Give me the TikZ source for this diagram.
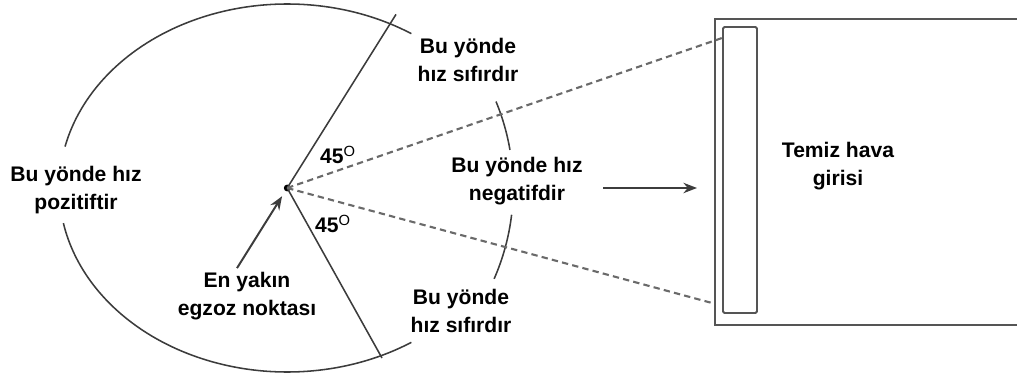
\documentclass[tikz,border=0pt]{standalone}
\usepackage{fontspec}
\setmainfont{Liberation Sans}
\usepackage{xcolor}
\usetikzlibrary{arrows.meta}
\definecolor{line-gray}{HTML}{3C3C3C}
\definecolor{dash-gray}{HTML}{6A6A6A}
\definecolor{box-gray}{HTML}{555555}

\begin{document}
\begin{tikzpicture}[
        every node/.style={font=\fontsize{15}{19.5}\selectfont\bfseries},
        lbl/.style={align=center, inner sep=0pt},
        ln/.style={line-gray, line width=1.1pt},
        dashln/.style={dash-gray, line width=1.5pt, dash pattern=on 4.5pt off 3pt},
        boxln/.style={box-gray, line width=1.6pt},
        arr/.style={-{Stealth[length=0.34cm, width=0.26cm]}, line-gray, line width=1.4pt}]
      \useasboundingbox (0,0) rectangle (25.425,9.35);
      % nearest exhaust point
      \node[circle, fill=black, inner sep=0pt, minimum size=0.17cm] (dot) at (7.18,4.65) {};
      \coordinate (upEnd) at (9.90,8.99);
      \coordinate (lowEnd) at (9.55,0.40);
      % 45 degree boundary lines
      \draw[ln] (dot.center) -- (upEnd);
      \draw[ln] (dot.center) -- (lowEnd);
      % outer curve (broken at the left label)
      \draw[ln] (dot.center) ++(57:5.7 and 4.6)
            arc[start angle=57, end angle=167, x radius=5.7, y radius=4.6];
      \draw[ln] (dot.center) ++(191:5.7 and 4.6)
            arc[start angle=191, end angle=303, x radius=5.7, y radius=4.6];
      % small arc pieces
      \draw[ln] (dot.center) ++(22.5:5.65) arc[start angle=22.5, end angle=9.7, radius=5.65];
      \draw[ln] (dot.center) ++(-6.8:5.65) arc[start angle=-6.8, end angle=-23.7, radius=5.65];
      % fresh air intake
      \draw[boxln] (25.425,8.875) -- (17.875,8.875) -- (17.875,1.225) -- (25.425,1.225);
      \node[draw=box-gray, line width=1.4pt, rounded corners=1pt, inner sep=0pt,
            minimum width=0.85cm, minimum height=7.15cm] (grille) at (18.5,5.1) {};
      \coordinate (dashUp) at (grille.west |- 0,8.4);
      \coordinate (dashLow) at (17.8,1.775);
      \draw[dashln] (dot.center) -- (dashUp);
      \draw[dashln] (dot.center) -- (dashLow);
      % labels
      \node[lbl] (posLbl) at (1.9,4.6) {Bu yönde hız\\pozitiftir};
      \node[lbl] (angUp) at (8.45,5.475) {45\textsuperscript{\mdseries O}};
      \node[lbl] (angLow) at (8.325,3.75) {45\textsuperscript{\mdseries O}};
      \node[lbl] (nearLbl) at (6.175,1.95) {En yakın\\egzoz noktası};
      \node[lbl] (zeroUp) at (11.7,7.85) {Bu yönde\\hız sıfırdır};
      \node[lbl] (negLbl) at (12.925,4.825) {Bu yönde hız\\negatifdir};
      \node[lbl] (zeroLow) at (11.525,1.575) {Bu yönde\\hız sıfırdır};
      \node[lbl] (airLbl) at (20.95,5.2) {Temiz hava\\girisi};
      % arrows
      \coordinate (flowA) at (15.075,4.65);
      \coordinate (flowB) at (17.425,4.65);
      \draw[arr] (flowA) -- (flowB);
      \draw[arr, shorten >=0.15cm] ([xshift=-0.25cm, yshift=0.1cm]nearLbl.north) -- (dot);
    \end{tikzpicture}
\end{document}
